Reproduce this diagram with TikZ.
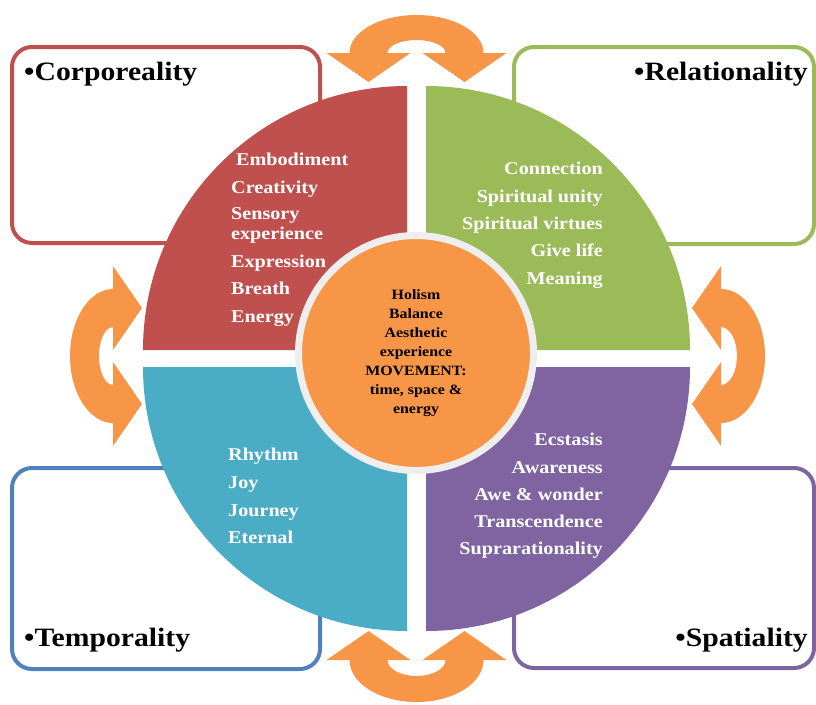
\documentclass[tikz,border=0pt]{standalone}
\usepackage{fontspec}
\setmainfont[FakeStretch=1.12]{Liberation Serif}
\definecolor{cred}{HTML}{C0504D}
\definecolor{cgreen}{HTML}{9BBB59}
\definecolor{cblue}{HTML}{4F81BD}
\definecolor{caqua}{HTML}{4BACC6}
\definecolor{cpurple}{HTML}{8064A2}
\definecolor{corange}{HTML}{F79646}
\definecolor{cring}{HTML}{EEEEEE}
\tikzset{
  framebox/.style={line width=4, rounded corners=20},
  arrowc/.style={fill=corange},
  qtext/.style={font=\bfseries\fontsize{18}{20}\selectfont, text=white, inner sep=0},
  ttext/.style={font=\bfseries\fontsize{26.5}{28}\selectfont, text=black, inner sep=0},
}
\newcommand\carrowH[4]{%
  \begin{scope}[shift={#1},yscale=#2]
    \fill[arrowc] (-90,0) -- (-48,29) -- (-6,0) -- (-29,0)
      arc[start angle=180,end angle=360,x radius=29,y radius=#4]
      -- (6,0) -- (48,29) -- (90,0) -- (67,0)
      arc[start angle=0,end angle=-180,x radius=67,y radius=#3] -- cycle;
  \end{scope}}
\newcommand\carrowV[4]{%
  \begin{scope}[shift={#1},xscale=#2]
    \fill[arrowc] (0,-90) -- (29,-48) -- (0,-6) -- (0,-29)
      arc[start angle=270,end angle=90,x radius=#4,y radius=29]
      -- (0,6) -- (29,48) -- (0,90) -- (0,67)
      arc[start angle=90,end angle=270,x radius=#3,y radius=67] -- cycle;
  \end{scope}}
\begin{document}
\begin{tikzpicture}[x=1pt,y=-1pt]
\useasboundingbox (0,0) rectangle (816,704);
% corner boxes
\draw[framebox, draw=cred] (12,47) rectangle (320,243);
\draw[framebox, draw=cgreen] (514,47) rectangle (814,244);
\draw[framebox, draw=cblue] (12,468) rectangle (320,669);
\draw[framebox, draw=cpurple] (514,468) rectangle (814,668);
% circular arrows
\carrowH{(416.5,53)}{1}{38}{13}
\carrowH{(416.5,660)}{-1}{42}{16}
\carrowV{(113,356)}{1}{43}{14}
\carrowV{(721,356)}{-1}{44}{16}
% quadrants
\fill[cred] (407,350) -- (143,350) arc[start angle=180,end angle=270,radius=264] -- cycle;
\fill[cgreen] (426,350) -- (426,86) arc[start angle=270,end angle=360,radius=264] -- cycle;
\fill[caqua] (407,367) -- (143,367) arc[start angle=180,end angle=90,radius=264] -- cycle;
\fill[cpurple] (426,367) -- (690,367) arc[start angle=0,end angle=90,radius=264] -- cycle;
% center
\node[circle, fill=corange, draw=cring, line width=7, minimum size=235, inner sep=0,
  align=center, font=\bfseries\fontsize{14.2}{19}\selectfont] (core) at (416,353)
  {Holism\\Balance\\Aesthetic\\experience\\MOVEMENT:\\time, space \&\\energy};
% titles
\node[ttext, anchor=base west] (tcorp) at (24,80) {•Corporeality};
\node[ttext, anchor=base east] (trel) at (808,80) {•Relationality};
\node[ttext, anchor=base west] (ttemp) at (24,646) {•Temporality};
\node[ttext, anchor=base east] (tspat) at (808,646) {•Spatiality};
% quadrant texts
\foreach \t/\x/\y [count=\i] in {Embodiment/236/159, Creativity/231/187, Sensory/231/213,
  experience/231/233, Expression/231/261, Breath/231/288, Energy/231/316}
  \node[qtext, anchor=base west] (red\i) at (\x,\y+6) {\t};
\foreach \t/\y [count=\i] in {Connection/168, Spiritual unity/196, Spiritual virtues/223,
  Give life/250, Meaning/278}
  \node[qtext, anchor=base east] (green\i) at (603,\y+6) {\t};
\foreach \t/\y [count=\i] in {Rhythm/454, Joy/482, Journey/510, Eternal/537}
  \node[qtext, anchor=base west] (blue\i) at (228,\y+6) {\t};
\foreach \t/\y [count=\i] in {Ecstasis/439, Awareness/467, Awe \& wonder/494,
  Transcendence/521, Suprarationality/548}
  \node[qtext, anchor=base east] (purple\i) at (603,\y+6) {\t};
\end{tikzpicture}
\end{document}
